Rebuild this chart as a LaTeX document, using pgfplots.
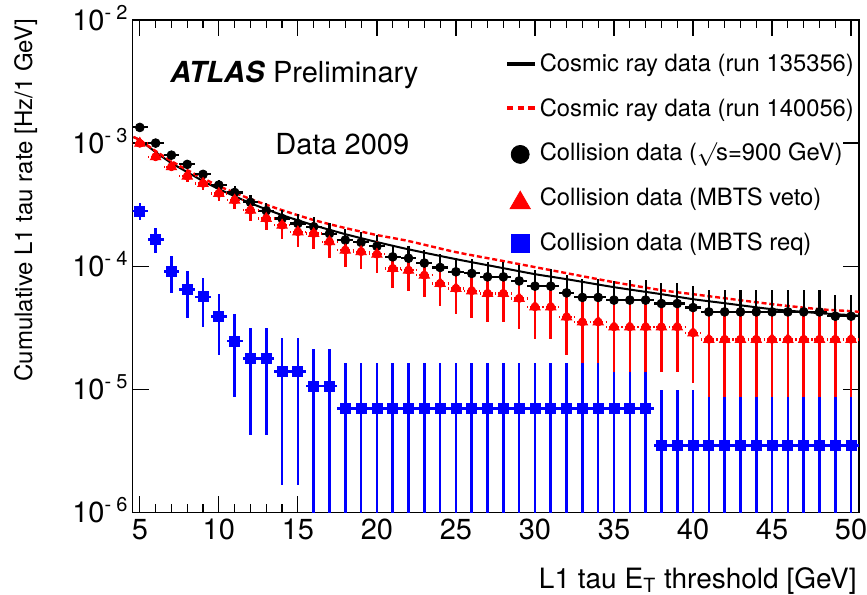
\documentclass[border=0pt]{standalone}
\usepackage{fontspec}
\setmainfont{TeX Gyre Heros}
\usepackage{pgfplots}
\pgfplotsset{compat=1.18}
\usepackage{pgfplotstable}

\pgfplotsset{
  mylineleg/.style={legend image code/.code={\path[draw=none,fill=none] (0bp,-6bp) rectangle (13.8bp,6bp); \draw[##1] (0bp,0bp) -- (13.8bp,0bp);}},
  mymarkleg/.style={legend image code/.code={\path[draw=none,fill=none] (0bp,-6bp) rectangle (13.8bp,6bp); \draw[##1] plot coordinates {(6.6bp,#1)};}},
}

% Collision data sqrt(s)=900 GeV (black circles), relative errors r
\pgfplotstableread{
x y r
5 1.34e-3 0.05
6 1.00e-3 0.06
7 7.98e-4 0.07
8 6.71e-4 0.08
9 5.57e-4 0.09
10 4.56e-4 0.10
11 3.97e-4 0.12
12 3.30e-4 0.14
13 2.82e-4 0.16
14 2.44e-4 0.18
15 2.22e-4 0.19
16 2.09e-4 0.20
17 1.84e-4 0.21
18 1.63e-4 0.22
19 1.56e-4 0.22
20 1.45e-4 0.23
21 1.19e-4 0.25
22 1.16e-4 0.26
23 1.06e-4 0.27
24 9.76e-5 0.28
25 9.00e-5 0.30
26 8.73e-5 0.31
27 8.19e-5 0.32
28 8.19e-5 0.33
29 7.59e-5 0.34
30 6.88e-5 0.36
31 6.88e-5 0.37
32 6.07e-5 0.39
33 5.57e-5 0.41
34 5.57e-5 0.42
35 5.30e-5 0.44
36 5.30e-5 0.45
37 5.30e-5 0.46
38 4.97e-5 0.47
39 4.97e-5 0.48
40 4.61e-5 0.50
41 4.25e-5 0.52
42 4.25e-5 0.52
43 4.25e-5 0.52
44 4.25e-5 0.52
45 4.25e-5 0.52
46 4.25e-5 0.52
47 4.25e-5 0.52
48 4.25e-5 0.52
49 3.92e-5 0.50
50 3.92e-5 0.50
}\blackdata

% Collision data MBTS veto (red triangles)
\pgfplotstableread{
x y r
5 9.95e-4 0.05
6 7.74e-4 0.07
7 6.42e-4 0.08
8 5.39e-4 0.10
9 4.70e-4 0.11
10 3.90e-4 0.14
11 3.44e-4 0.16
12 2.85e-4 0.18
13 2.44e-4 0.20
14 2.15e-4 0.22
15 1.90e-4 0.24
16 1.84e-4 0.25
17 1.58e-4 0.26
18 1.35e-4 0.27
19 1.31e-4 0.28
20 1.25e-4 0.29
21 9.58e-5 0.31
22 9.27e-5 0.32
23 8.45e-5 0.34
24 7.23e-5 0.34
25 6.59e-5 0.38
26 6.30e-5 0.40
27 6.00e-5 0.41
28 6.00e-5 0.41
29 5.46e-5 0.43
30 4.67e-5 0.45
31 4.67e-5 0.45
32 3.87e-5 0.51
33 3.52e-5 0.60
34 3.52e-5 0.60
35 3.21e-5 0.60
36 3.21e-5 0.60
37 3.21e-5 0.60
38 3.21e-5 0.57
39 3.21e-5 0.57
40 2.87e-5 0.61
41 2.54e-5 0.67
42 2.54e-5 0.67
43 2.54e-5 0.67
44 2.54e-5 0.67
45 2.54e-5 0.67
46 2.54e-5 0.67
47 2.54e-5 0.67
48 2.54e-5 0.67
49 2.54e-5 0.67
50 2.54e-5 0.67
}\reddata

% Collision data MBTS req (blue squares)
\pgfplotstableread{
x y ep em
5 2.80e-4 0.155 0.155
6 1.65e-4 0.23 0.23
7 9.10e-5 0.33 0.33
8 6.46e-5 0.41 0.41
9 5.63e-5 0.43 0.43
10 3.92e-5 0.52 0.52
11 2.47e-5 0.65 0.65
12 1.78e-5 0.76 0.76
13 1.78e-5 0.76 0.76
14 1.40e-5 0.88 0.88
15 1.40e-5 0.88 0.88
16 1.06e-5 1.00 0.999
17 1.06e-5 1.00 0.999
18 7.0e-6 1.32 0.999
19 7.0e-6 1.32 0.999
20 7.0e-6 1.32 0.999
21 7.0e-6 1.32 0.999
22 7.0e-6 1.32 0.999
23 7.0e-6 1.32 0.999
24 7.0e-6 1.32 0.999
25 7.0e-6 1.32 0.999
26 7.0e-6 1.32 0.999
27 7.0e-6 1.32 0.999
28 7.0e-6 1.32 0.999
29 7.0e-6 1.32 0.999
30 7.0e-6 1.32 0.999
31 7.0e-6 1.32 0.999
32 7.0e-6 1.32 0.999
33 7.0e-6 1.32 0.999
34 7.0e-6 1.32 0.999
35 7.0e-6 0.99 0.999
36 7.0e-6 0.99 0.999
37 7.0e-6 0.99 0.999
38 3.5e-6 1.80 0.999
39 3.5e-6 1.80 0.999
40 3.5e-6 1.80 0.999
41 3.5e-6 1.47 0.999
42 3.5e-6 1.47 0.999
43 3.5e-6 1.47 0.999
44 3.5e-6 1.47 0.999
45 3.5e-6 1.47 0.999
46 3.5e-6 1.47 0.999
47 3.5e-6 1.47 0.999
48 3.5e-6 1.47 0.999
49 3.5e-6 1.47 0.999
50 3.5e-6 1.47 0.999
}\bluedata

% Cosmic ray data run 135356 (black line)
\pgfplotstableread{
x y
4.6 1.12e-3
5 1.057e-3
6 8.45e-4
7 6.88e-4
8 5.81e-4
9 4.91e-4
10 4.23e-4
12 3.25e-4
14 2.60e-4
16 2.15e-4
18 1.82e-4
20 1.57e-4
22 1.37e-4
25 1.14e-4
28 9.63e-5
30 8.61e-5
32 7.84e-5
35 6.75e-5
38 5.92e-5
40 5.39e-5
42 5.00e-5
45 4.47e-5
48 4.15e-5
50 4.00e-5
50.5 3.96e-5
}\cosmicA

% Cosmic ray data run 140056 (red dashed line)
\pgfplotstableread{
x y
4.6 1.12e-3
5 1.057e-3
6 8.61e-4
7 7.14e-4
8 6.03e-4
9 5.19e-4
10 4.47e-4
12 3.51e-4
14 2.85e-4
16 2.37e-4
18 2.04e-4
20 1.79e-4
22 1.60e-4
25 1.30e-4
28 1.10e-4
30 9.82e-5
32 8.77e-5
35 7.41e-5
38 6.38e-5
40 5.92e-5
42 5.49e-5
45 4.91e-5
48 4.47e-5
50 4.31e-5
50.5 4.25e-5
}\cosmicB

\begin{document}
\begin{tikzpicture}
\path[use as bounding box] (-66.35bp,-41.35bp) rectangle (367.15bp,256.15bp);
\begin{axis}[
  at={(0,0)}, anchor=south west,
  scale only axis, width=363.15bp, height=246.15bp,
  xmin=4.55, xmax=50.5, ymin=1e-6, ymax=1e-2,
  ymode=log, log basis y=10,
  axis line style={line width=0.6bp},
  tick style={black, line width=0.6bp},
  xtick={5,10,...,50}, minor x tick num=4,
  ytick={1e-6,1e-5,1e-4,1e-3,1e-2},
  tick align=inside, xtick pos=both, ytick pos=both,
  major tick length=8bp, minor tick length=4bp,
  /pgf/number format/assume math mode=true,
  xticklabel style={font=\fontsize{14.5bp}{16bp}\selectfont, inner sep=0pt, anchor=north, yshift=-3.3bp},
  yticklabel={\pgfmathtruncatemacro\e{round(-\tick)}10\raisebox{5.5bp}{\fontsize{10bp}{10bp}\selectfont -\hspace{2.6bp}\e}},
  yticklabel style={font=\fontsize{14.5bp}{16bp}\selectfont, inner sep=0pt, anchor=base east, xshift=-2.4bp, yshift=-5.1bp},
  xlabel={L1 tau E\textsubscript{T} threshold [GeV]},
  xlabel style={at={([xshift=-1bp,yshift=-38bp]axis description cs:1,0)}, anchor=base east, inner sep=0pt, font=\fontsize{14bp}{16bp}\selectfont},
  ylabel={Cumulative L1 tau rate [Hz/1 GeV]},
  ylabel style={at={([xshift=-50.3bp,yshift=1bp]axis description cs:0,1)}, anchor=base east, inner sep=0pt, font=\fontsize{12bp}{14bp}\selectfont},
  legend style={at={(axis description cs:0.5126,0.936)}, anchor=north west,
    draw=none, fill=none, inner sep=0pt, outer sep=0pt,
    font=\fontsize{11.9bp}{14bp}\selectfont, row sep=10.3bp,
    nodes={inner sep=0pt, text height=9.2bp, text depth=1bp},
    /tikz/every odd column/.append style={column sep=1.6bp}},
  legend cell align=left,
]
\addlegendimage{black, line width=2bp, mylineleg}
\addlegendentry{Cosmic ray data (run 135356)}
\addlegendimage{red, line width=1.8bp, dash pattern=on 3.2bp off 2.1bp, mylineleg}
\addlegendentry{Cosmic ray data (run 140056)}
\addlegendimage{only marks, black, mark=*, mark size=4.5bp, mymarkleg=-0.85bp}
\addlegendentry{Collision data (\raisebox{0.1bp}{$\surd$}\kern-0.5bp s=900 GeV)}
\addlegendimage{only marks, red, mark=triangle*, mark size=5.8bp, mymarkleg=-2.75bp}
\addlegendentry{Collision data (MBTS veto)}
\addlegendimage{only marks, blue, mark=square*, mark size=4.6bp, mymarkleg=-0.85bp}
\addlegendentry{Collision data (MBTS req)}

% cosmic curves
\addplot[forget plot, black, line width=1bp, smooth, tension=0.4] table[x=x,y=y] {\cosmicA};
\addplot[forget plot, red, line width=1.2bp, smooth, tension=0.4, dash pattern=on 2.5bp off 1.4bp] table[x=x,y=y] {\cosmicB};

% black circles
\addplot[forget plot, only marks, black, mark=*, mark size=2.2bp,
  error bars/.cd, x dir=both, x fixed=0.5, y dir=both, y explicit relative,
  error mark=none, error bar style={black, line width=1.05bp, solid}]
  table[x=x, y=y, y error plus=r, y error minus=r] {\blackdata};

% red triangles: dashed horizontal bars
\addplot[forget plot, only marks, red, mark=none,
  error bars/.cd, x dir=both, x fixed=0.5,
  error mark=none, error bar style={red, line width=1.2bp, dash pattern=on 2.5bp off 1.2bp}]
  table[x=x, y=y] {\reddata};
% red triangles: vertical bars and markers
\addplot[forget plot, only marks, red, mark=triangle*, mark size=3bp, mark options={solid},
  error bars/.cd, y dir=both, y explicit relative,
  error mark=none, error bar style={red, line width=1.3bp, solid}]
  table[x=x, y=y, y error plus=r, y error minus=r] {\reddata};

% blue squares
\addplot[forget plot, only marks, blue, mark=square*, mark size=2.5bp,
  error bars/.cd, x dir=both, x fixed=0.5, y dir=both, y explicit relative,
  error mark=none, error bar style={blue, line width=1.3bp, solid}]
  table[x=x, y=y, y error plus=ep, y error minus=em] {\bluedata};

\node[anchor=base west, inner sep=0pt, font=\fontsize{14.5bp}{16bp}\selectfont] at (axis description cs:0.0514,0.874) {\textbf{\textit{ATLAS}} Preliminary};
\node[anchor=base west, inner sep=0pt, font=\fontsize{14.5bp}{16bp}\selectfont] at (axis description cs:0.196,0.7258) {Data 2009};
\end{axis}
\end{tikzpicture}
\end{document}
